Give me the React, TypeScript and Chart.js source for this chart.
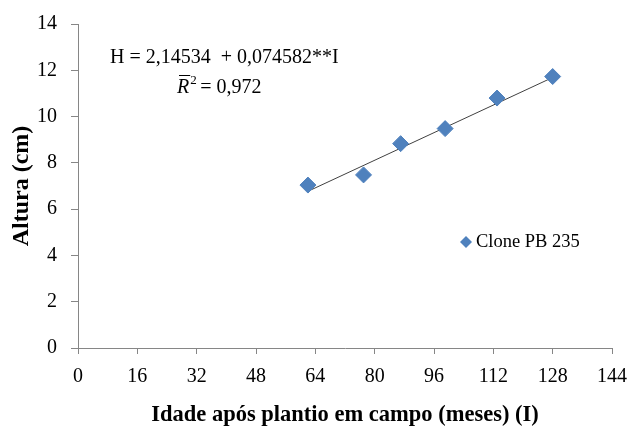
import React, { useEffect, useRef } from "react";
import { Chart, registerables } from "chart.js";

Chart.register(...registerables);

const idade = [62, 77, 87, 99, 113, 128];
const altura = [7.04, 7.48, 8.83, 9.48, 10.8, 11.73];
const trendX = [62, 128];
const trendY = [6.77, 11.69];
const xTicks = [0, 16, 32, 48, 64, 80, 96, 112, 128, 144];
const yTicks = [0, 2, 4, 6, 8, 10, 12, 14];
const seriesLabel = "Clone PB 235";
const equation = "H = 2,14534  + 0,074582**I";
const r2Value = " = 0,972";

const SERIF = "'Liberation Serif', 'Times New Roman', serif";
const BLUE = "#4F81BD";
const AXIS = "#868686";

const overlayPlugin = {
  id: "overlay",
  afterDraw(chart: any) {
    const ctx = chart.ctx;
    ctx.save();
    ctx.fillStyle = "#000";
    ctx.textBaseline = "middle";
    ctx.textAlign = "left";
    ctx.font = `20px ${SERIF}`;
    ctx.fillText(equation, 110, 58);
    // R-bar squared
    ctx.font = `italic 20px ${SERIF}`;
    const rx = 177;
    ctx.fillText("R", rx, 88);
    const rw = ctx.measureText("R").width;
    ctx.strokeStyle = "#000";
    ctx.lineWidth = 1;
    ctx.beginPath();
    ctx.moveTo(rx + 2, 75.5);
    ctx.lineTo(rx + rw + 1, 75.5);
    ctx.stroke();
    ctx.font = `13px ${SERIF}`;
    ctx.fillText("2", rx + rw + 1, 81);
    ctx.font = `20px ${SERIF}`;
    ctx.fillText(r2Value, rx + rw + 6, 88);
    // legend
    const ds = chart.data.datasets[0];
    const lx = 466, ly = 242;
    ctx.fillStyle = ds.backgroundColor;
    ctx.beginPath();
    ctx.moveTo(lx, ly - 6);
    ctx.lineTo(lx + 6, ly);
    ctx.lineTo(lx, ly + 6);
    ctx.lineTo(lx - 6, ly);
    ctx.closePath();
    ctx.fill();
    ctx.fillStyle = "#000";
    ctx.font = `18.5px ${SERIF}`;
    ctx.fillText(ds.label, 476, ly);
    ctx.restore();
  },
};

export default function App() {
  const ref = useRef<HTMLCanvasElement>(null);
  useEffect(() => {
    document.body.style.margin = "0";
    const chart = new Chart(ref.current!, {
      type: "scatter",
      data: {
        datasets: [
          {
            label: seriesLabel,
            data: idade.map((x, i) => ({ x, y: altura[i] })),
            backgroundColor: BLUE,
            borderColor: BLUE,
            pointStyle: "rectRot",
            pointRadius: 8,
            order: 1,
          },
          {
            label: "trend",
            type: "line",
            data: trendX.map((x, i) => ({ x, y: trendY[i] })),
            borderColor: "#404040",
            borderWidth: 1,
            pointRadius: 0,
            fill: false,
            order: 2,
          } as any,
        ],
      },
      options: {
        responsive: false,
        animation: false,
        layout: { padding: { top: 24, right: 19, left: 0, bottom: 0 } },
        plugins: { legend: { display: false }, tooltip: { enabled: false } },
        scales: {
          x: {
            type: "linear",
            min: 0,
            max: 144,
            afterBuildTicks: (s: any) => {
              s.ticks = xTicks.map((v) => ({ value: v }));
            },
            afterFit: (s: any) => {
              s.height = 80;
              s.paddingLeft = 0;
              s.paddingRight = 0;
            },
            ticks: {
              color: "#000",
              font: { family: SERIF, size: 20 },
              padding: 11,
              maxRotation: 0,
            },
            grid: { drawOnChartArea: false, drawTicks: true, tickLength: 6, color: AXIS },
            border: { color: AXIS },
            title: {
              display: true,
              text: "Idade após plantio em campo (meses) (I)",
              color: "#000",
              font: { family: SERIF, size: 22.5, weight: "bold" },
              padding: { top: 0, bottom: -1 },
            },
          },
          y: {
            type: "linear",
            min: 0,
            max: 14,
            afterBuildTicks: (s: any) => {
              s.ticks = yTicks.map((v) => ({ value: v }));
            },
            afterFit: (s: any) => {
              s.width = 78;
              s.paddingTop = 0;
              s.paddingBottom = 0;
            },
            ticks: {
              color: "#000",
              font: { family: SERIF, size: 20 },
              padding: 14,
            },
            grid: { drawOnChartArea: false, drawTicks: true, tickLength: 7, color: AXIS },
            border: { color: AXIS },
            title: {
              display: true,
              text: "Altura (cm)",
              color: "#000",
              font: { family: SERIF, size: 24, weight: "bold" },
              padding: { top: 7, bottom: 0 },
            },
          },
        },
      },
      plugins: [overlayPlugin],
    });
    return () => chart.destroy();
  }, []);
  return (
    <div style={{ width: 631, height: 428, background: "#fff" }}>
      <canvas ref={ref} width={631} height={428} />
    </div>
  );
}
